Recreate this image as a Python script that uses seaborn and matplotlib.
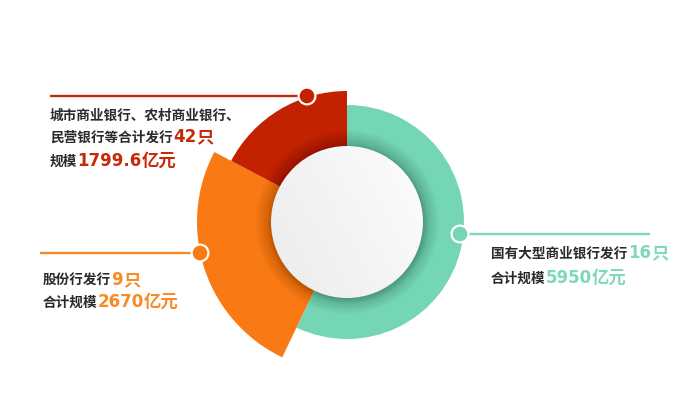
import numpy as np
import matplotlib
matplotlib.use("Agg")
import matplotlib.pyplot as plt
import seaborn as sns
from matplotlib.patches import Circle

# ---------------- data ----------------
categories = ["国有大型商业银行", "股份行", "城市商业银行、农村商业银行、民营银行等"]
scale_values = [5950, 2670, 1799.6]      # 亿元
bond_counts = [16, 9, 42]                # 只
seg_colors = ["#74D6B4", "#F97A14", "#C32200"]
text_colors = ["#7DD8BC", "#F98A24", "#C62A0A"]

sns.set_theme(style="white")
plt.rcParams["font.family"] = ["Noto Sans CJK SC", "DejaVu Sans"]

W, H = 700, 410
fig = plt.figure(figsize=(7, 4.1), dpi=100)
fig.patch.set_facecolor("white")
ax = fig.add_axes([0, 0, 1, 1])


def Y(y):
    return H - y


cx, cy = 347, Y(223)
radii = [117, 150, 131]
inner = 74

wedges, _ = ax.pie(scale_values, colors=seg_colors, startangle=90,
                   counterclock=False, center=(cx, cy), radius=150,
                   wedgeprops=dict(linewidth=0))
for w, r in zip(wedges, radii):
    w.set_radius(r)
    w.set_width(r - inner)
    w.set_zorder(2)

# inner shadow band
for r in np.linspace(92, 77, 15):
    ax.add_patch(Circle((cx, cy), r, facecolor="black", alpha=0.013,
                        lw=0, zorder=3))
# soft drop shadow of the white disc
for r in np.linspace(80, 76.5, 4):
    ax.add_patch(Circle((cx + 1, cy - 2), r, facecolor="black", alpha=0.02,
                        lw=0, zorder=4))

# white gradient disc
circ = Circle((cx, cy), 76, facecolor="none", lw=0, zorder=5)
ax.add_patch(circ)
xx, yy = np.meshgrid(np.linspace(0, 1, 200), np.linspace(0, 1, 200))
g = 0.92 + 0.07 * (0.65 * xx + 0.35 * yy)
im = ax.imshow(g, cmap="gray", vmin=0, vmax=1,
               extent=[cx - 76, cx + 76, cy - 76, cy + 76],
               origin="lower", zorder=6, interpolation="bilinear")
im.set_clip_path(circ)

# leader lines and dots
leaders = [((460, 235), (460, 650)),   # teal
           ((200, 254), (40, 200)),    # orange
           ((307, 97), (50, 307))]     # red
for (dx, dy), (x0, x1), tc, sc in zip([l[0] for l in leaders],
                                      [l[1] for l in leaders],
                                      text_colors, seg_colors):
    ax.plot([x0, x1], [Y(dy), Y(dy)], color=tc, lw=1.7,
            solid_capstyle="butt", zorder=8)
    ax.add_patch(Circle((dx, Y(dy)), 9.5, facecolor="white", lw=0, zorder=9))
    ax.add_patch(Circle((dx, Y(dy)), 7.3, facecolor=sc, lw=0, zorder=10))

dark = "#2A2A2A"
CJK = ["Noto Sans CJK SC", "DejaVu Sans"]
NUM = ["DejaVu Sans"]
renderer = fig.canvas.get_renderer()


def draw_parts(x, ybase, parts):
    for s, color, size, fam, gap in parts:
        t = ax.text(x, Y(ybase), s, color=color, fontsize=size,
                    fontweight="bold", family=fam, va="baseline",
                    ha="left", zorder=11)
        bb = t.get_window_extent(renderer=renderer)
        x = ax.transData.inverted().transform((bb.x1, 0))[0] + gap


def fmt(v):
    return f"{v:g}"


BS, NS, US = 9.8, 12, 12.5

ax.set_xlim(0, W)
ax.set_ylim(0, H)
ax.set_aspect("auto")
ax.axis("off")

# teal block
draw_parts(491, 258, [("国有大型商业银行发行", dark, BS, CJK, 0.5),
                      (fmt(bond_counts[0]), text_colors[0], NS, NUM, 0),
                      ("只", text_colors[0], US, CJK, 0)])
draw_parts(491, 283, [("合计规模", dark, BS, CJK, 0),
                      (fmt(scale_values[0]), text_colors[0], NS, NUM, 0),
                      ("亿元", text_colors[0], US, CJK, 0)])

# orange block
draw_parts(43, 285, [("股份行发行", dark, BS, CJK, 0.5),
                     (fmt(bond_counts[1]), text_colors[1], NS, NUM, 0),
                     ("只", text_colors[1], US, CJK, 0)])
draw_parts(43, 307, [("合计规模", dark, BS, CJK, 0),
                     (fmt(scale_values[1]), text_colors[1], NS, NUM, 0),
                     ("亿元", text_colors[1], US, CJK, 0)])

# red block
draw_parts(50, 120, [("城市商业银行、农村商业银行、", dark, BS, CJK, 0)])
draw_parts(50, 142, [("民营银行等合计发行", dark, BS, CJK, 0.5),
                     (fmt(bond_counts[2]), text_colors[2], NS, NUM, 0),
                     ("只", text_colors[2], US, CJK, 0)])
draw_parts(50, 166, [("规模", dark, BS, CJK, 0),
                     (fmt(scale_values[2]), text_colors[2], NS, NUM, 0),
                     ("亿元", text_colors[2], US, CJK, 0)])

fig.savefig("out.png", dpi=100, facecolor="white")
